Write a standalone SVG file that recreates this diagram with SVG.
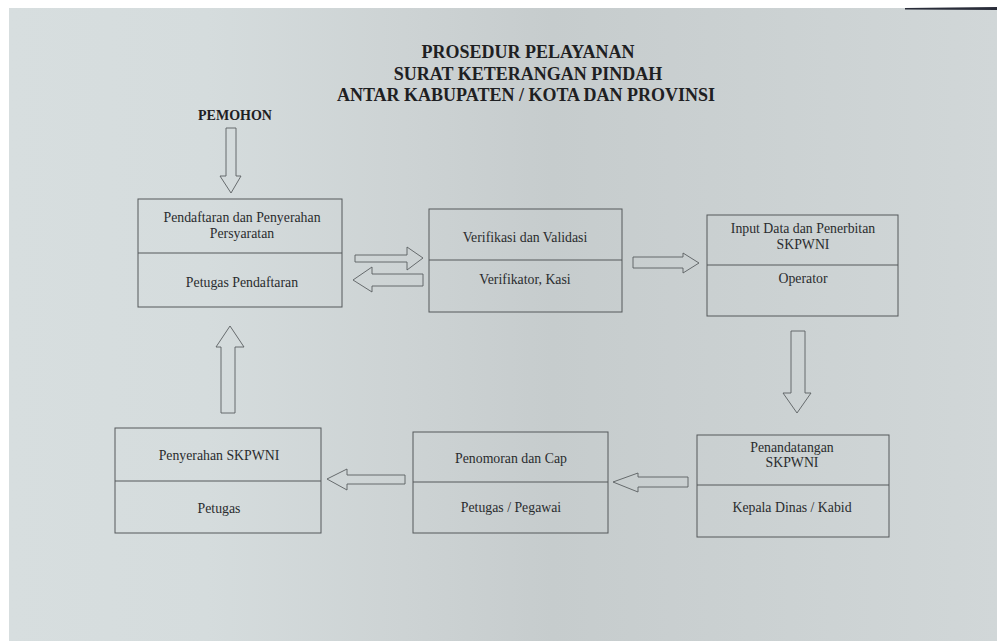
<svg xmlns="http://www.w3.org/2000/svg" width="997" height="641" viewBox="0 0 997 641">
<defs>
<linearGradient id="paper" x1="0" y1="0" x2="1" y2="0">
<stop offset="0" stop-color="#d7dedf"/>
<stop offset="0.2" stop-color="#d5dcdd"/>
<stop offset="0.4" stop-color="#cdd3d4"/>
<stop offset="0.55" stop-color="#c6cccd"/>
<stop offset="0.75" stop-color="#cbd1d2"/>
<stop offset="1" stop-color="#d1d7d8"/>
</linearGradient>
<style>
.box{fill:none;stroke:#55595b;stroke-width:1}
.arr{fill:none;stroke:#5a5f61;stroke-width:0.9;stroke-linejoin:miter}
.t{font-family:"Liberation Serif","Times New Roman",serif;font-size:13.8px;fill:#2a2c2e;text-anchor:middle}
.h{font-family:"Liberation Serif","Times New Roman",serif;font-weight:bold;font-size:18px;fill:#1e2022;text-anchor:middle}
.p{font-family:"Liberation Serif","Times New Roman",serif;font-weight:bold;font-size:14px;fill:#1e2022;text-anchor:middle}
</style>
</defs>
<rect x="0" y="0" width="997" height="641" fill="#ffffff"/>
<rect x="9" y="8" width="988" height="633" fill="url(#paper)"/>
<path d="M905 8 L997 7 L997 10 L905 9.5 Z" fill="#2a2d3a"/>

<g id="title">
<text class="h" x="528" y="58">PROSEDUR PELAYANAN</text>
<text class="h" x="528" y="80">SURAT KETERANGAN PINDAH</text>
<text class="h" x="526" y="101">ANTAR KABUPATEN / KOTA DAN PROVINSI</text>
</g>

<g id="pemohon">
<text class="p" x="235" y="120">PEMOHON</text>
</g>

<g id="n1">
<rect class="box" x="138" y="199" width="204" height="108"/>
<line class="box" x1="138" y1="253" x2="342" y2="253"/>
<text class="t" x="242" y="222">Pendaftaran dan Penyerahan</text>
<text class="t" x="242" y="238">Persyaratan</text>
<text class="t" x="242" y="287">Petugas Pendaftaran</text>
</g>

<g id="n2">
<rect class="box" x="429" y="209" width="193" height="103"/>
<line class="box" x1="429" y1="260" x2="622" y2="260"/>
<text class="t" x="525" y="242">Verifikasi dan Validasi</text>
<text class="t" x="525" y="284">Verifikator, Kasi</text>
</g>

<g id="n3">
<rect class="box" x="707" y="215" width="191" height="101"/>
<line class="box" x1="707" y1="265" x2="898" y2="265"/>
<text class="t" x="803" y="233">Input Data dan Penerbitan</text>
<text class="t" x="803" y="249">SKPWNI</text>
<text class="t" x="803" y="283">Operator</text>
</g>

<g id="n4">
<rect class="box" x="697" y="435" width="192" height="102"/>
<line class="box" x1="697" y1="485" x2="889" y2="485"/>
<text class="t" x="792" y="452">Penandatangan</text>
<text class="t" x="792" y="467">SKPWNI</text>
<text class="t" x="792" y="512">Kepala Dinas / Kabid</text>
</g>

<g id="n5">
<rect class="box" x="413" y="432" width="195" height="101"/>
<line class="box" x1="413" y1="482" x2="608" y2="482"/>
<text class="t" x="511" y="463">Penomoran dan Cap</text>
<text class="t" x="511" y="512">Petugas / Pegawai</text>
</g>

<g id="n6">
<rect class="box" x="115" y="428" width="206" height="105"/>
<line class="box" x1="115" y1="481" x2="321" y2="481"/>
<text class="t" x="219" y="460">Penyerahan SKPWNI</text>
<text class="t" x="219" y="513">Petugas</text>
</g>

<g id="connectors">
<path class="arr" d="M226 128 L236 128 L236 176 L241 176 L231 193 L220 176 L226 176 Z"/>
<path class="arr" d="M355 255 L407 255 L407 247 L423 258 L407 270 L407 262 L355 262 Z"/>
<path class="arr" d="M423 274 L372 274 L372 267 L353 280 L372 292 L372 286 L423 286 Z"/>
<path class="arr" d="M633 257 L683 257 L683 253 L699 263 L683 273 L683 268 L633 268 Z"/>
<path class="arr" d="M791 331 L805 331 L805 393 L811 393 L797 413 L783 393 L791 393 Z"/>
<path class="arr" d="M688 477 L638 477 L638 473 L613 482 L638 492 L638 487 L688 487 Z"/>
<path class="arr" d="M405 475 L347 475 L347 469 L327 479 L347 490 L347 484 L405 484 Z"/>
<path class="arr" d="M221 413 L235 413 L235 347 L244 347 L230 326 L216 347 L221 347 Z"/>
</g>
</svg>
